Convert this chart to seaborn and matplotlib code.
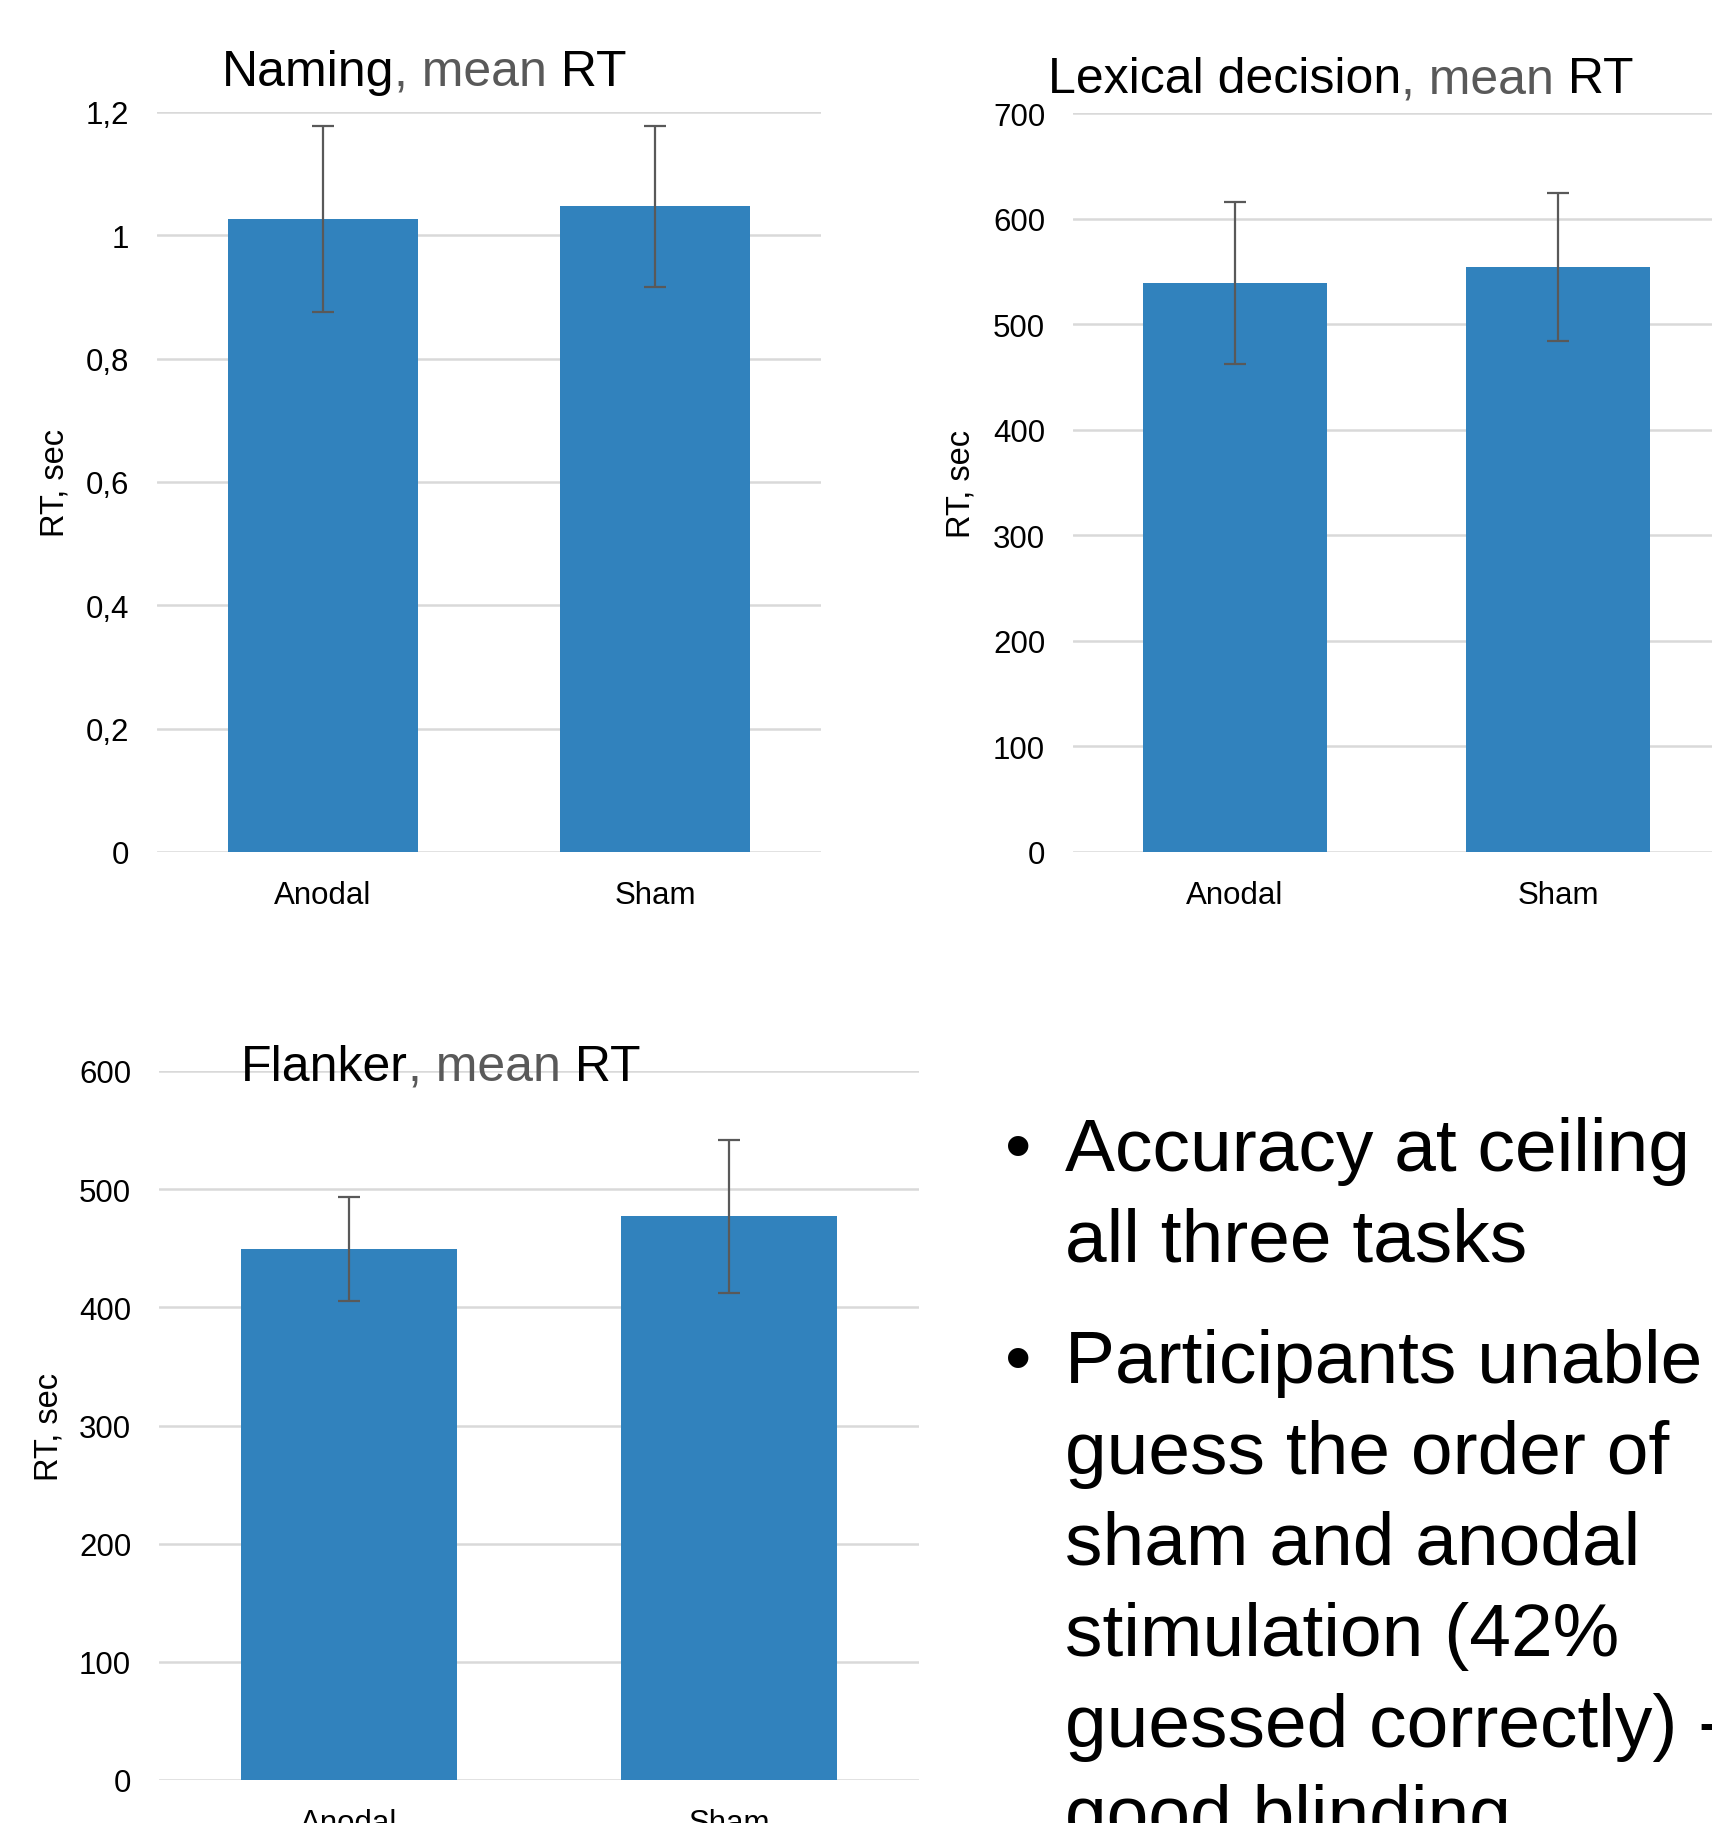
import matplotlib
matplotlib.use('Agg')
import matplotlib.pyplot as plt
import seaborn as sns
import pandas as pd

# values
conditions = ['Anodal', 'Sham']

naming_mean = [1.026, 1.047]
naming_err = [0.151, 0.130]
naming_ticks = [0, 0.2, 0.4, 0.6, 0.8, 1.0, 1.2]
naming_labels = ['0', '0,2', '0,4', '0,6', '0,8', '1', '1,2']

lexical_mean = [539, 554]
lexical_err = [77, 70]
lexical_ticks = [0, 100, 200, 300, 400, 500, 600, 700]

flanker_mean = [449, 477]
flanker_err = [44, 65]
flanker_ticks = [0, 100, 200, 300, 400, 500, 600]

bullet_points = [
    ['Accuracy at ceiling', 'all three tasks'],
    ['Participants unable', 'guess the order of', 'sham and anodal',
     'stimulation (42%', 'guessed correctly) -', 'good blinding'],
]

BAR = '#3182bd'
GRID = '#d9d9d9'
ERR = '#595959'
W, H = 1712, 1824

sns.set_style('white')
plt.rcParams['font.family'] = ['Liberation Sans', 'DejaVu Sans']
plt.rcParams['text.color'] = 'black'

fig = plt.figure(figsize=(W / 100, H / 100), dpi=100)


def px_axes(left, top, right, bottom):
    return fig.add_axes([left / W, 1 - bottom / H, (right - left) / W, (bottom - top) / H])


def draw_panel(ax, means, errs, ticks, labels, label_x):
    df = pd.DataFrame({'cond': conditions, 'rt': means})
    sns.barplot(data=df, x='cond', y='rt', color=BAR, width=0.57,
                saturation=1, linewidth=0, ax=ax, zorder=2)
    ax.errorbar(x=range(len(means)), y=means, yerr=errs, fmt='none',
                ecolor=ERR, elinewidth=1.6, capsize=8, capthick=1.6, zorder=3)
    ax.set_ylim(ticks[0], ticks[-1])
    ax.set_xlim(-0.5, 1.5)
    ax.set_yticks(ticks)
    ax.set_yticklabels(labels)
    ax.yaxis.grid(True, color=GRID, linewidth=1.8)
    ax.set_axisbelow(True)
    for s in ax.spines.values():
        s.set_visible(False)
    ax.tick_params(axis='both', length=0, pad=20, labelsize=22.5, labelcolor='black')
    ax.set_xlabel('')
    ax.set_ylabel('RT, sec', fontsize=23.5, color='black')
    ax.yaxis.set_label_coords(label_x, 0.5)


def title_parts(x, y, parts):
    prev = fig.text(x / W, 1 - y / H, parts[0][0], color=parts[0][1],
                    fontsize=36, ha='left', va='baseline')
    for txt, col in parts[1:]:
        prev = fig.add_artist(matplotlib.text.Annotation(
            txt, xy=(1, 0), xycoords=prev, color=col, fontsize=36,
            ha='left', va='bottom'))


ax1 = px_axes(157, 113, 821, 853)
draw_panel(ax1, naming_mean, naming_err, naming_ticks, naming_labels, -0.131)

ax2 = px_axes(1073, 114, 1720, 853)
draw_panel(ax2, lexical_mean, lexical_err, lexical_ticks,
           [str(t) for t in lexical_ticks], -0.149)

ax3 = px_axes(159, 1072, 919, 1781)
draw_panel(ax3, flanker_mean, flanker_err, flanker_ticks,
           [str(t) for t in flanker_ticks], -0.125)

title_parts(222, 86, [('Naming', 'black'), (', mean', ERR), (' RT', 'black')])
title_parts(1048, 93, [('Lexical decision', 'black'), (', mean', ERR), (' RT', 'black')])
title_parts(241, 1081, [('Flanker', 'black'), (', mean', ERR), (' RT', 'black')])

# bullet text on the right
y = 1171
for block in bullet_points:
    fig.text(1005 / W, 1 - y / H, '\u2022', fontsize=54, color='black',
             ha='left', va='baseline')
    for line in block:
        fig.text(1065 / W, 1 - y / H, line, fontsize=54, color='black',
                 ha='left', va='baseline')
        y += 91
    y += 30

fig.savefig('out.png', dpi=100)
